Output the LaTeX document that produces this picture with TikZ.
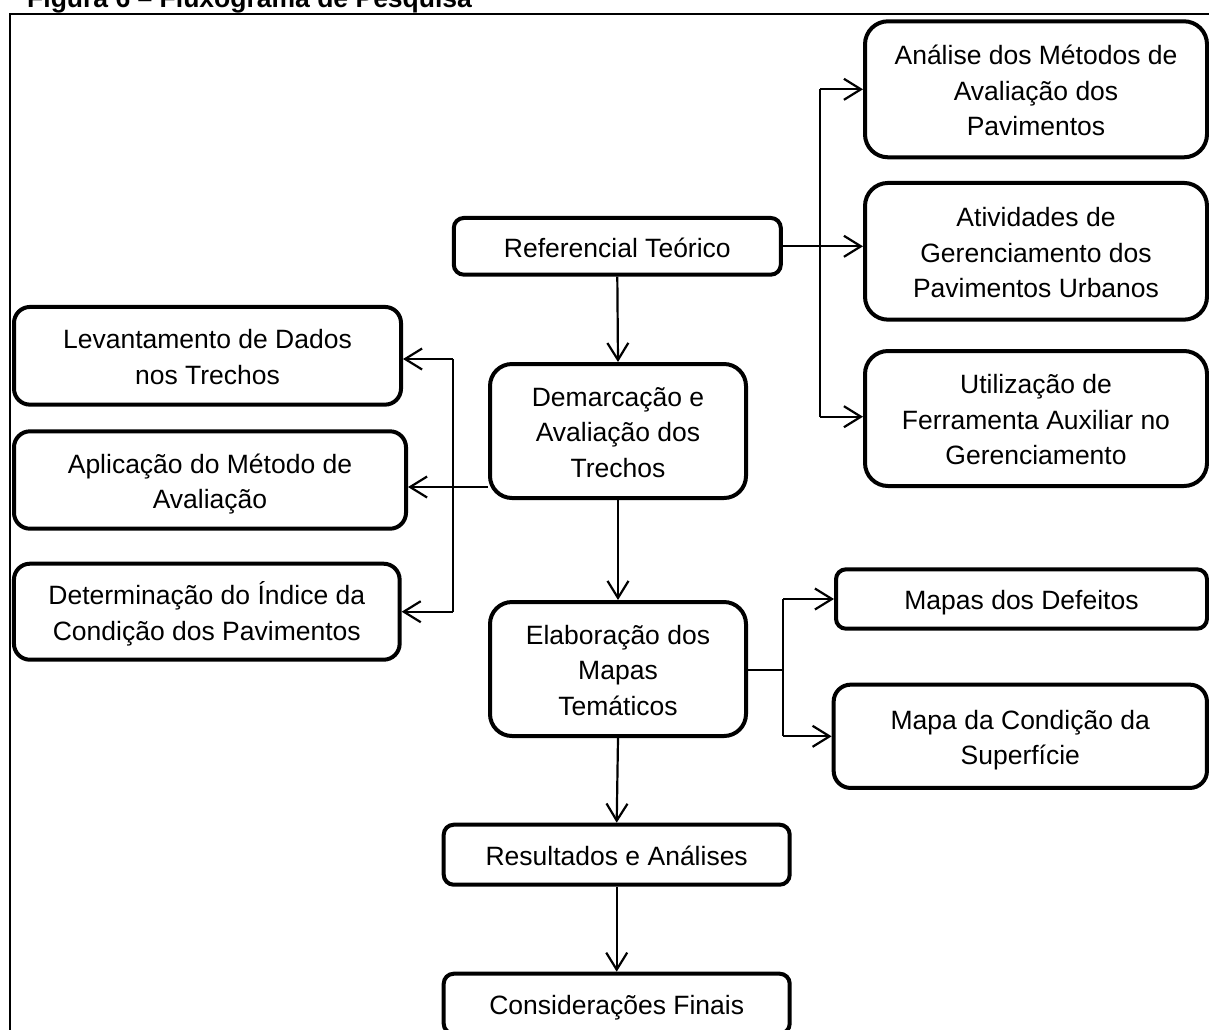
\documentclass[tikz,border=0pt]{standalone}
\usepackage{fontspec}
\setmainfont{Liberation Sans}
\usetikzlibrary{arrows.meta}
\newcommand\lline[1]{\smash{#1}\rule[-2.6pt]{0pt}{26.6pt}}
\begin{document}
\begin{tikzpicture}[x=1pt,y=-1pt,
  box/.style={draw,line width=4pt,inner sep=0pt,align=center,font={\fontsize{26.5}{35.3}\selectfont}},
  conn/.style={line width=2.2pt},
  arr/.style={conn,-{Straight Barb[length=17pt,width=21pt,line width=2.2pt]}}]
\useasboundingbox (0,0) rectangle (1209,1029);
% title and frame
\node[anchor=base west,inner sep=0pt,font={\bfseries\fontsize{26.5}{30}\selectfont}] (title) at (27,7.5) {Figura 6 – Fluxograma de Pesquisa};
\draw[line width=2pt] (10.3,13.7) rectangle (1240,1060);
% central column
\node[box,minimum width=327pt,minimum height=56.7pt,rounded corners=10pt] (rt) at (617.3,246.3) {\lline{Referencial Teórico}};
\node[box,minimum width=256pt,minimum height=134pt,rounded corners=22pt] (dem) at (618,431) {\lline{Demarcação e}\\\lline{Avaliação dos}\\\lline{Trechos}};
\node[box,minimum width=256pt,minimum height=134pt,rounded corners=22pt] (ela) at (618,669) {\lline{Elaboração dos}\\\lline{Mapas}\\\lline{Temáticos}};
\node[box,minimum width=346pt,minimum height=60pt,rounded corners=10pt] (res) at (616.7,854.7) {\lline{Resultados e Análises}};
\node[box,minimum width=346pt,minimum height=60pt,rounded corners=10pt] (con) at (616.7,1003.7) {\lline{Considerações Finais}};
% left column
\node[box,minimum width=387pt,minimum height=97.7pt,rounded corners=16pt] (lev) at (207.5,355.8) {\lline{Levantamento de Dados}\\\lline{nos Trechos}};
\node[box,minimum width=392pt,minimum height=97.4pt,rounded corners=16pt] (apl) at (210,480) {\lline{Aplicação do Método de}\\\lline{Avaliação}};
\node[box,minimum width=385.7pt,minimum height=96pt,rounded corners=16pt] (det) at (206.8,611.7) {\lline{Determinação do Índice da}\\\lline{Condição dos Pavimentos}};
% right top column
\node[box,minimum width=342pt,minimum height=136pt,rounded corners=23pt] (ana) at (1036,89.3) {\lline{Análise dos Métodos de}\\\lline{Avaliação dos}\\\lline{Pavimentos}};
\node[box,minimum width=342pt,minimum height=136.7pt,rounded corners=23pt] (ati) at (1036,251.3) {\lline{Atividades de}\\\lline{Gerenciamento dos}\\\lline{Pavimentos Urbanos}};
\node[box,minimum width=342pt,minimum height=135pt,rounded corners=23pt] (uti) at (1036,418.5) {\lline{Utilização de}\\\lline{Ferramenta Auxiliar no}\\\lline{Gerenciamento}};
% right bottom column
\node[box,minimum width=371pt,minimum height=59.4pt,rounded corners=10pt] (map) at (1021.5,599) {\lline{Mapas dos Defeitos}};
\node[box,minimum width=373.3pt,minimum height=103.3pt,rounded corners=17pt] (mcs) at (1020.3,736.3) {\lline{Mapa da Condição da}\\\lline{Superfície}};
% junction coordinates
\coordinate (rtop) at (820,89.3);
\coordinate (rbot) at (820,416.7);
\coordinate (ltop) at (453,359);
\coordinate (lbot) at (453,611.7);
\coordinate (etop) at (783,599);
\coordinate (ebot) at (783,736.3);
\coordinate (emid) at (783,670);
% central arrows
\draw[arr] (rt.south) -- (dem.north);
\draw[arr] (dem.south) -- (ela.north);
\draw[arr] (ela.south) -- (res.north);
\draw[arr] (res.south) -- (con.north);
% right top branch
\draw[arr] (rt.east) -- (ati.west |- rt.east);
\draw[conn] (rtop) -- (rbot);
\draw[arr] (rtop) -- (ana.west |- rtop);
\draw[arr] (rbot) -- (uti.west |- rbot);
% left branch
\draw[arr] (dem.west |- 0,487) -- (apl.east |- 0,487);
\draw[conn] (ltop) -- (lbot);
\draw[arr] (ltop) -- (lev.east |- ltop);
\draw[arr] (lbot) -- (det.east |- lbot);
% right bottom branch
\draw[conn] (ela.east |- emid) -- (emid);
\draw[conn] (etop) -- (ebot);
\draw[arr] (etop) -- (map.west |- etop);
\draw[arr] (ebot) -- (mcs.west |- ebot);
\end{tikzpicture}
\end{document}
